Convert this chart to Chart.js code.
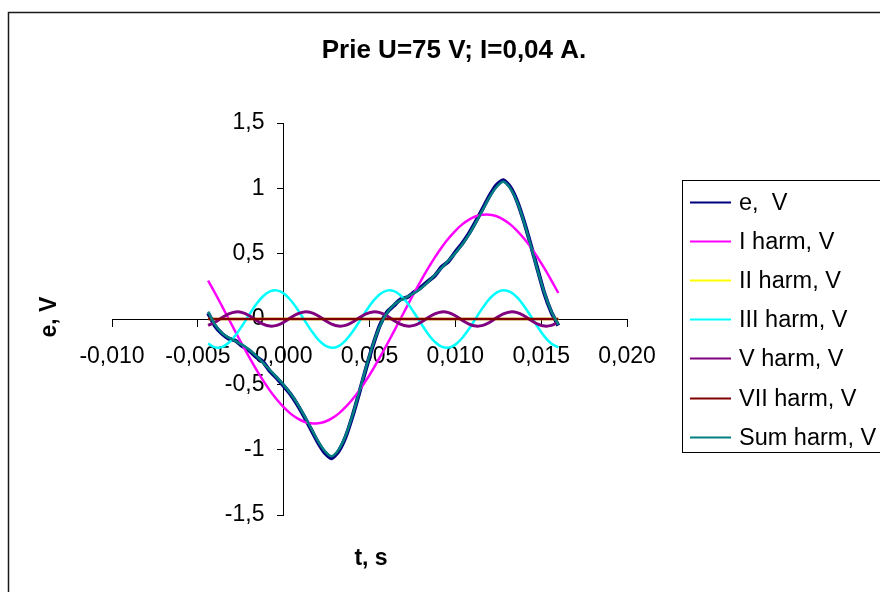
<!DOCTYPE html>
<html>
<head>
<meta charset="utf-8">
<title>Prie U=75 V; I=0,04 A.</title>
<script src="https://cdn.jsdelivr.net/npm/chart.js@4.4.1/dist/chart.umd.min.js"></script>
<style>
  html, body { margin: 0; padding: 0; background: #fff; }
  canvas { display: block; }
</style>
</head>
<body>
<canvas id="harmChart" width="880" height="592"></canvas>
<script>
// time, s
const tSec = [-0.0044, -0.0040, -0.0036, -0.0032, -0.0028, -0.0024, -0.0020, -0.0016, -0.0012, -0.0008,
  -0.0004, 0.0000, 0.0004, 0.0008, 0.0012, 0.0016, 0.0020, 0.0024, 0.0028, 0.0032,
  0.0036, 0.0040, 0.0044, 0.0048, 0.0052, 0.0056, 0.0060, 0.0064, 0.0068, 0.0072,
  0.0076, 0.0080, 0.0084, 0.0088, 0.0092, 0.0096, 0.0100, 0.0104, 0.0108, 0.0112,
  0.0116, 0.0120, 0.0124, 0.0128, 0.0132, 0.0136, 0.0140, 0.0144, 0.0148, 0.0152,
  0.0156, 0.0160];

// measured e, V
const eV = [0.045, -0.052, -0.112, -0.150, -0.166, -0.208, -0.242, -0.290, -0.328, -0.400,
  -0.452, -0.512, -0.576, -0.656, -0.748, -0.846, -0.945, -1.025, -1.065, -1.012,
  -0.905, -0.748, -0.566, -0.378, -0.202, -0.050, 0.048, 0.100, 0.150, 0.166,
  0.205, 0.242, 0.288, 0.330, 0.398, 0.441, 0.512, 0.578, 0.656, 0.748,
  0.846, 0.945, 1.025, 1.062, 1.010, 0.902, 0.746, 0.565, 0.376, 0.190,
  0.050, -0.050];

const harm1 = [0.294, 0.199, 0.100, 0.000, -0.100, -0.199, -0.294, -0.385, -0.470, -0.548,
  -0.616, -0.675, -0.724, -0.761, -0.786, -0.798, -0.798, -0.786, -0.761, -0.724,
  -0.675, -0.616, -0.548, -0.470, -0.385, -0.294, -0.199, -0.100, 0.000, 0.100,
  0.199, 0.294, 0.385, 0.470, 0.548, 0.616, 0.675, 0.724, 0.761, 0.786,
  0.798, 0.798, 0.786, 0.761, 0.724, 0.675, 0.616, 0.548, 0.470, 0.385,
  0.294, 0.199];

const harm2 = [0, 0, 0, 0, 0, 0, 0, 0, 0, 0,
  0, 0, 0, 0, 0, 0, 0, 0, 0, 0,
  0, 0, 0, 0, 0, 0, 0, 0, 0, 0,
  0, 0, 0, 0, 0, 0, 0, 0, 0, 0,
  0, 0, 0, 0, 0, 0, 0, 0, 0, 0,
  0, 0];

const harm3 = [-0.189, -0.217, -0.215, -0.182, -0.124, -0.048, 0.034, 0.112, 0.174, 0.211,
  0.219, 0.196, 0.145, 0.075, -0.007, -0.087, -0.156, -0.202, -0.220, -0.207,
  -0.165, -0.100, -0.021, 0.061, 0.135, 0.189, 0.217, 0.215, 0.182, 0.124,
  0.048, -0.034, -0.112, -0.174, -0.211, -0.219, -0.196, -0.145, -0.075, 0.007,
  0.087, 0.156, 0.202, 0.220, 0.207, 0.165, 0.100, 0.021, -0.061, -0.135,
  -0.189, -0.217];

const harm5 = [-0.049, -0.025, 0.009, 0.039, 0.054, 0.049, 0.025, -0.009, -0.039, -0.054,
  -0.049, -0.025, 0.009, 0.039, 0.054, 0.049, 0.025, -0.009, -0.039, -0.054,
  -0.049, -0.025, 0.009, 0.039, 0.054, 0.049, 0.025, -0.009, -0.039, -0.054,
  -0.049, -0.025, 0.009, 0.039, 0.054, 0.049, 0.025, -0.009, -0.039, -0.054,
  -0.049, -0.025, 0.009, 0.039, 0.054, 0.049, 0.025, -0.009, -0.039, -0.054,
  -0.049, -0.025];

const harm7 = [0, 0, 0, 0, 0, 0, 0, 0, 0, 0,
  0, 0, 0, 0, 0, 0, 0, 0, 0, 0,
  0, 0, 0, 0, 0, 0, 0, 0, 0, 0,
  0, 0, 0, 0, 0, 0, 0, 0, 0, 0,
  0, 0, 0, 0, 0, 0, 0, 0, 0, 0,
  0, 0];

const harmSum = [0.056, -0.043, -0.106, -0.143, -0.170, -0.198, -0.235, -0.282, -0.335, -0.391,
  -0.446, -0.504, -0.570, -0.647, -0.739, -0.836, -0.935, -1.010, -1.050, -1.000,
  -0.895, -0.741, -0.560, -0.370, -0.196, -0.056, 0.043, 0.106, 0.143, 0.170,
  0.198, 0.235, 0.282, 0.335, 0.391, 0.446, 0.504, 0.570, 0.647, 0.739,
  0.836, 0.935, 1.010, 1.050, 1.000, 0.895, 0.741, 0.560, 0.370, 0.196,
  0.056, -0.043];

const seriesNames = ['e,  V', 'I harm, V', 'II harm, V', 'III harm, V', 'V harm, V', 'VII harm, V', 'Sum harm, V'];
const seriesColors = ['#000080', '#ff00ff', '#ffff00', '#00ffff', '#800080', '#800000', '#008080'];
const seriesWidths = [4, 2.5, 2.5, 2.5, 3, 2.5, 2.5];
const seriesData = [eV, harm1, harm2, harm3, harm5, harm7, harmSum];

const titleText = 'Prie U=75 V; I=0,04 A.';
const xTitle = 't, s';
const yTitle = 'e, V';

const FONT = '"Liberation Sans", Arial, sans-serif';
Chart.defaults.font.family = FONT;
Chart.defaults.color = '#000';

const toPts = ys => tSec.map((x, i) => ({ x, y: ys[i] }));

// Excel-like frame, title, axis titles and legend
const decor = {
  id: 'decor',
  afterDraw(chart) {
    const c = chart.ctx;
    c.save();
    c.strokeStyle = '#1a1a1a';
    c.lineWidth = 1.5;
    c.strokeRect(8.5, 12.5, 1000, 700);

    c.fillStyle = '#000';
    c.textAlign = 'center';
    c.textBaseline = 'alphabetic';
    c.font = 'bold 26px ' + FONT;
    c.fillText(titleText, 454, 58);

    c.font = 'bold 23px ' + FONT;
    c.fillText(xTitle, 371, 565);
    c.save();
    c.translate(56, 317);
    c.rotate(-Math.PI / 2);
    c.fillText(yTitle, 0, 0);
    c.restore();

    // legend
    c.strokeStyle = '#000';
    c.lineWidth = 1;
    c.strokeRect(682.5, 180.5, 400, 272);
    c.font = '23.5px ' + FONT;
    c.textAlign = 'left';
    c.textBaseline = 'middle';
    seriesNames.forEach((name, i) => {
      const y = Math.round(202 + i * 39.1) + 0.5;
      c.strokeStyle = seriesColors[i];
      c.lineWidth = 2;
      c.beginPath();
      c.moveTo(690, y);
      c.lineTo(731, y);
      c.stroke();
      c.fillStyle = '#000';
      c.fillText(name, 739, y + 1);
    });
    c.restore();
  }
};

new Chart(document.getElementById('harmChart'), {
  type: 'line',
  data: {
    datasets: seriesData.map((ys, i) => ({
      label: seriesNames[i],
      data: toPts(ys),
      borderColor: seriesColors[i],
      backgroundColor: seriesColors[i],
      borderWidth: seriesWidths[i],
      pointRadius: 0,
      tension: i === 0 ? 0.2 : 0.35,
      fill: false,
      order: seriesData.length - i
    }))
  },
  options: {
    responsive: false,
    animation: false,
    layout: { padding: { left: 112, right: 253, top: 123, bottom: 77 } },
    plugins: {
      legend: { display: false },
      title: { display: false },
      tooltip: { enabled: false }
    },
    scales: {
      x: {
        type: 'linear',
        min: -0.01,
        max: 0.02,
        position: { y: 0 },
        border: { display: true, color: '#000', width: 1 },
        grid: { drawOnChartArea: false, drawTicks: true, tickLength: 7, color: '#000' },
        ticks: {
          stepSize: 0.005,
          autoSkip: false,
          maxRotation: 0,
          padding: 17,
          font: { size: 23 },
          color: '#000',
          callback: v => Math.abs(v) < 1e-9 ? '0,000' : v.toFixed(3).replace('.', ',')
        }
      },
      y: {
        type: 'linear',
        min: -1.5,
        max: 1.5,
        position: { x: 0 },
        border: { display: true, color: '#000', width: 1 },
        grid: { drawOnChartArea: false, drawTicks: true, tickLength: 6, color: '#000' },
        ticks: {
          stepSize: 0.5,
          font: { size: 23 },
          color: '#000',
          // positioned axis puts labels flush on the line; trailing spaces give the gap
          callback: v => String(Math.round(v * 10) / 10).replace('.', ',') + '   '
        }
      }
    }
  },
  plugins: [decor]
});
</script>
</body>
</html>
